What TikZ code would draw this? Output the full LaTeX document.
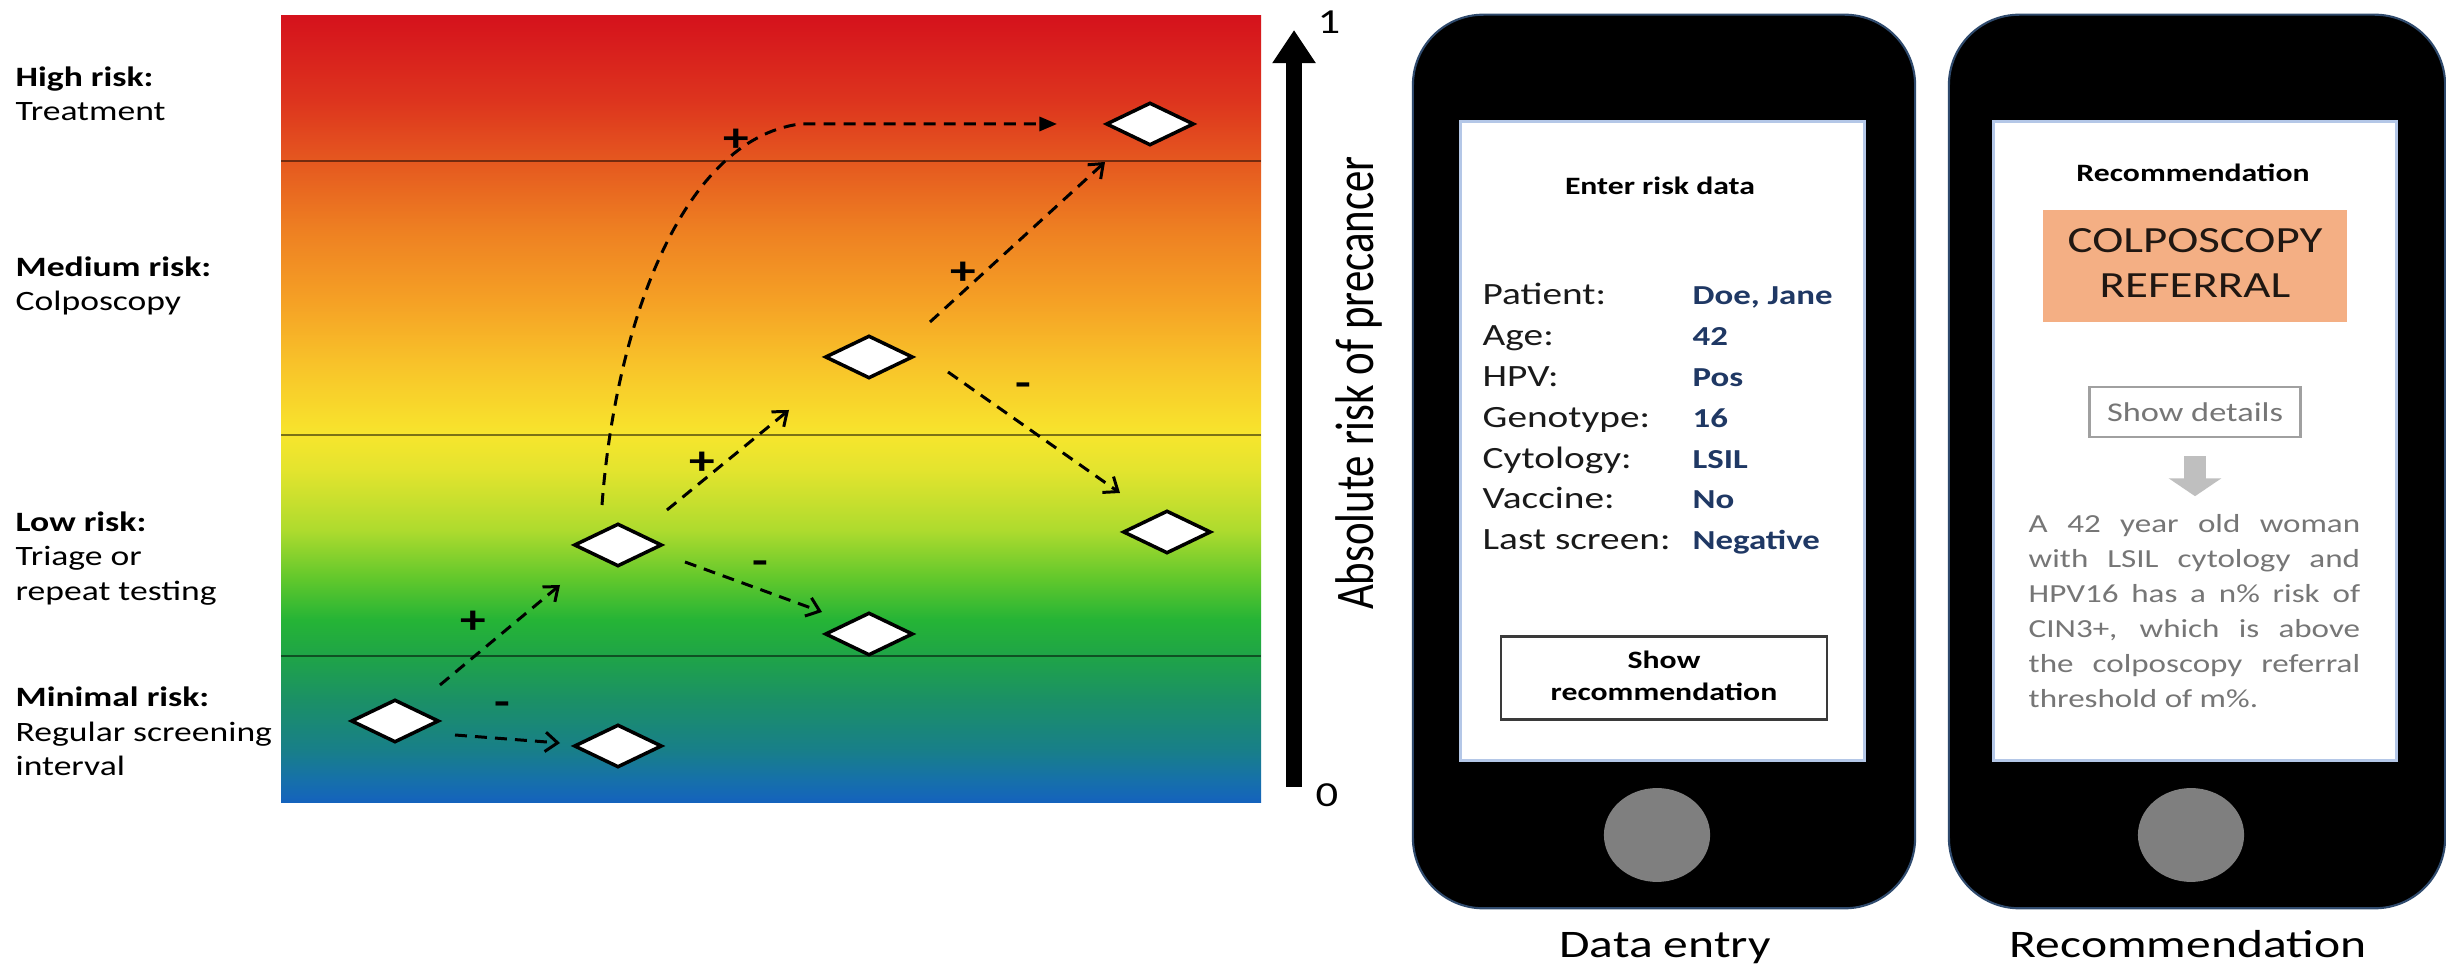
\documentclass[tikz,border=0pt]{standalone}
\usepackage{fontspec}
\setmainfont{Carlito}
\usetikzlibrary{arrows.meta,shapes.geometric,calc}

\definecolor{g803}{HTML}{1462BE}
\definecolor{g780}{HTML}{1670AA}
\definecolor{g750}{HTML}{187F89}
\definecolor{g700}{HTML}{1B9066}
\definecolor{g656}{HTML}{1FA447}
\definecolor{g620}{HTML}{25B436}
\definecolor{g580}{HTML}{5FC72C}
\definecolor{g530}{HTML}{AEDB2E}
\definecolor{g470}{HTML}{E3E42E}
\definecolor{g435}{HTML}{F7E52D}
\definecolor{g420}{HTML}{F8DE2C}
\definecolor{g370}{HTML}{F8C62A}
\definecolor{g300}{HTML}{F5A025}
\definecolor{g230}{HTML}{EE8022}
\definecolor{g161}{HTML}{E5581F}
\definecolor{g100}{HTML}{DD341E}
\definecolor{g16}{HTML}{D5121C}
\definecolor{valblue}{HTML}{1F3864}
\definecolor{rowtext}{HTML}{1A1A1A}
\definecolor{phoneedge}{HTML}{2F4A6D}
\definecolor{screenedge}{HTML}{B4C7E7}
\definecolor{homegray}{HTML}{7F7F7F}
\definecolor{btnedge}{HTML}{3A3A3A}
\definecolor{orangebox}{HTML}{F4AF84}
\definecolor{orangetext}{HTML}{1F1712}
\definecolor{detedge}{HTML}{A0A0A0}
\definecolor{greytext}{HTML}{767676}
\definecolor{arrowgrey}{HTML}{BFBFBF}

\pgfdeclareverticalshading{riskgrad}{100bp}{%
color(0bp)=(g803); color(25bp)=(g803); color(26.46bp)=(g780);
color(28.37bp)=(g750); color(31.55bp)=(g700); color(34.34bp)=(g656);
color(36.63bp)=(g620); color(39.17bp)=(g580); color(42.35bp)=(g530);
color(46.16bp)=(g470); color(48.38bp)=(g435); color(49.33bp)=(g420);
color(52.51bp)=(g370); color(56.96bp)=(g300); color(61.40bp)=(g230);
color(65.79bp)=(g161); color(69.66bp)=(g100); color(75bp)=(g16);
color(100bp)=(g16)}

\newcommand{\hs}[1]{\scalebox{1.27}[1]{#1}}
\newcommand{\val}[1]{\textcolor{valblue}{\fontsize{7.8}{9}\selectfont\textbf{#1}}}

\tikzset{
  lab/.style={anchor=base west, inner sep=0pt, font=\fontsize{7.97}{9.67}\selectfont},
  dia/.style={diamond, aspect=2, draw=black, fill=white, line width=1pt,
    minimum width=25pt, minimum height=12.2pt, inner sep=0pt},
  darr/.style={line width=0.85pt, dash pattern=on 3.4pt off 2.3pt,
    -{Straight Barb[length=3.5pt,width=5.5pt]}},
  darrf/.style={line width=0.85pt, dash pattern=on 3.4pt off 2.3pt,
    -{Triangle[length=5pt,width=4pt]}},
  sign/.style={inner sep=0pt, font=\fontsize{11.5}{13}\bfseries},
  thr/.style={line width=0.5pt, black, opacity=0.5},
  axisarrow/.style={line width=4.3pt, -{Triangle[length=9.4pt,width=11.7pt]}},
  axnum/.style={inner sep=0pt, font=\fontsize{10}{12}\selectfont},
  phone/.style={rectangle, rounded corners=20pt, fill=black, draw=phoneedge,
    line width=0.6pt, minimum height=254.1pt, inner sep=0pt},
  screen/.style={rectangle, fill=white, draw=screenedge, line width=0.8pt,
    minimum height=181.5pt, inner sep=0pt},
  home/.style={ellipse, fill=homegray, minimum width=30.2pt, minimum height=26.7pt, inner sep=0pt},
  hdr/.style={anchor=base, inner sep=0pt, font=\fontsize{7.1}{8.5}\bfseries},
  rows/.style={anchor=base west, inner sep=0pt, text=rowtext, font=\fontsize{8.8}{11.6}\selectfont},
  btn/.style={rectangle, draw=btnedge, line width=0.6pt, minimum width=92.5pt,
    minimum height=23.6pt, inner sep=0pt, font=\fontsize{7.1}{9.1}\bfseries},
  orbox/.style={rectangle, fill=orangebox, minimum width=86.5pt, minimum height=31.9pt,
    inner sep=0pt, text=orangetext, font=\fontsize{10.5}{12.8}\selectfont},
  detbox/.style={rectangle, draw=detedge, line width=0.7pt, minimum width=60pt,
    minimum height=14.2pt, inner sep=0pt, text=greytext, font=\fontsize{7.7}{9}\selectfont},
  garrow/.style={draw=arrowgrey, line width=6.3pt, -{Triangle[length=5.1pt,width=14.8pt]}},
  para/.style={anchor=base west, inner sep=0pt, text=greytext, font=\fontsize{7.4}{9.9}\selectfont},
  phonecap/.style={anchor=base, inner sep=0pt, font=\fontsize{11.1}{13}\selectfont}
}

\begin{document}
\begin{tikzpicture}[x=0.01cm, y=-0.01cm]
\useasboundingbox (0,0) rectangle (2446,968);
\fill[white] (0,0) rectangle (2446,968);

% gradient panel
\shade[shading=riskgrad] (281,16) rectangle (1261,803);
\draw[thr] (281,161) -- (1261,161);
\draw[thr] (281,435) -- (1261,435);
\draw[thr] (281,656) -- (1261,656);

% left labels
\node[lab] (lhigh) at (15,87) {\hs{\begin{tabular}[t]{@{}l@{}}\textbf{High risk:}\\Treatment\end{tabular}}};
\node[lab] (lmed) at (15,277) {\hs{\begin{tabular}[t]{@{}l@{}}\textbf{Medium risk:}\\Colposcopy\end{tabular}}};
\node[lab] (llow) at (15,532) {\hs{\begin{tabular}[t]{@{}l@{}}\textbf{Low risk:}\\Triage or\\repeat testing\end{tabular}}};
\node[lab] (lmin) at (15,707) {\hs{\begin{tabular}[t]{@{}l@{}}\textbf{Minimal risk:}\\Regular screening\\interval\end{tabular}}};

% diamonds
\node[dia] (d1) at (395,721) {};
\node[dia] (d2) at (618,746) {};
\node[dia] (d3) at (618,545) {};
\node[dia] (d4) at (869,634) {};
\node[dia] (d5) at (869,357) {};
\node[dia] (d6) at (1167,532) {};
\node[dia] (d7) at (1150,124) {};

% connectors
\draw[darr] ($(d1)+(45,-36)$) -- ($(d3)+(-58,40)$);
\draw[darr] ($(d1)+(60,14)$) -- ($(d2)+(-58,-3)$);
\draw[darr] ($(d3)+(49,-35)$) -- ($(d5)+(-80,53)$);
\draw[darr] ($(d5)+(61,-35)$) -- ($(d7)+(-45,38)$);
\draw[darr] ($(d5)+(79,15)$) -- ($(d6)+(-47,-39)$);
\draw[darr] ($(d3)+(67,17)$) -- ($(d4)+(-47,-22)$);
\draw[darrf] ($(d3)+(-16,-40)$) .. controls ($(d3)+(-3,-215)$) and ($(d7)+(-470,16)$) .. ($(d7)+(-350,0)$) -- ($(d7)+(-93,0)$);

% signs
\node[sign] (s1) at (473,622) {\hs{+}};
\node[sign] (s2) at (502,709) {\hs{-}};
\node[sign] (s3) at (702,463) {\hs{+}};
\node[sign] (s4) at (963,273) {\hs{+}};
\node[sign] (s5) at (1023,390) {\hs{-}};
\node[sign] (s6) at (760,568) {\hs{-}};
\node[sign] (s7) at (736,140) {\hs{+}};

% axis
\coordinate (ax0) at (1294,787);
\coordinate (ax1) at (1294,30);
\draw[axisarrow] (ax0) -- (ax1);
\node[axnum] (n1) at (1329,22) {\hs{1}};
\node[axnum] (n0) at (1327,795) {\hs{0}};
\node[rotate=90, anchor=base, inner sep=0pt, font=\fontsize{12.2}{14}\selectfont] (axlab) at (1373,383) {\scalebox{1}[1.27]{Absolute risk of precancer}};

% phone 1
\node[phone, minimum width=142.8pt] (ph1) at (1664,461.5) {};
\node[screen, minimum width=114.7pt] (sc1) at (1662.5,441) {};
\node[home] (hb1) at (1657,835) {};
\node[hdr] (t1) at (1660,195) {\hs{Enter risk data}};
\node[rows] (form) at (1482,305) {\hs{\begin{tabular}[t]{@{}p{47pt}@{}l@{}}
Patient: & \val{Doe, Jane}\\
Age: & \val{42}\\
HPV: & \val{Pos}\\
Genotype: & \val{16}\\
Cytology: & \val{LSIL}\\
Vaccine: & \val{No}\\
Last screen: & \val{Negative}
\end{tabular}}};
\node[btn] (btn1) at (1664,678) {\hs{\begin{tabular}{@{}c@{}}Show\\recommendation\end{tabular}}};
\node[phonecap] (c1) at (1665,958) {\hs{Data entry}};

% phone 2
\node[phone, minimum width=141.1pt] (ph2) at (2197,461.5) {};
\node[screen, minimum width=114.4pt] (sc2) at (2195,441) {};
\node[home] (hb2) at (2191,835) {};
\node[hdr] (t2) at (2193,182) {\hs{Recommendation}};
\node[orbox] (cb) at (2195,266) {\hs{\begin{tabular}{@{}c@{}}COLPOSCOPY\\REFERRAL\end{tabular}}};
\node[detbox] (det) at (2195,412) {\hs{Show details}};
\draw[garrow] ($(det.south)+(0,18)$) -- ($(det.south)+(0,58)$);
\node[para] (txt) at (2028,533) {\hs{\parbox[t]{74.2pt}{%
\makebox[\linewidth][s]{A 42 year old woman}\\
\makebox[\linewidth][s]{with LSIL cytology and}\\
\makebox[\linewidth][s]{HPV16 has a n\% risk of}\\
\makebox[\linewidth][s]{CIN3+, which is above}\\
\makebox[\linewidth][s]{the colposcopy referral}\\
threshold of m\%.}}};
\node[phonecap] (c2) at (2188,958) {\hs{Recommendation}};
\end{tikzpicture}
\end{document}
